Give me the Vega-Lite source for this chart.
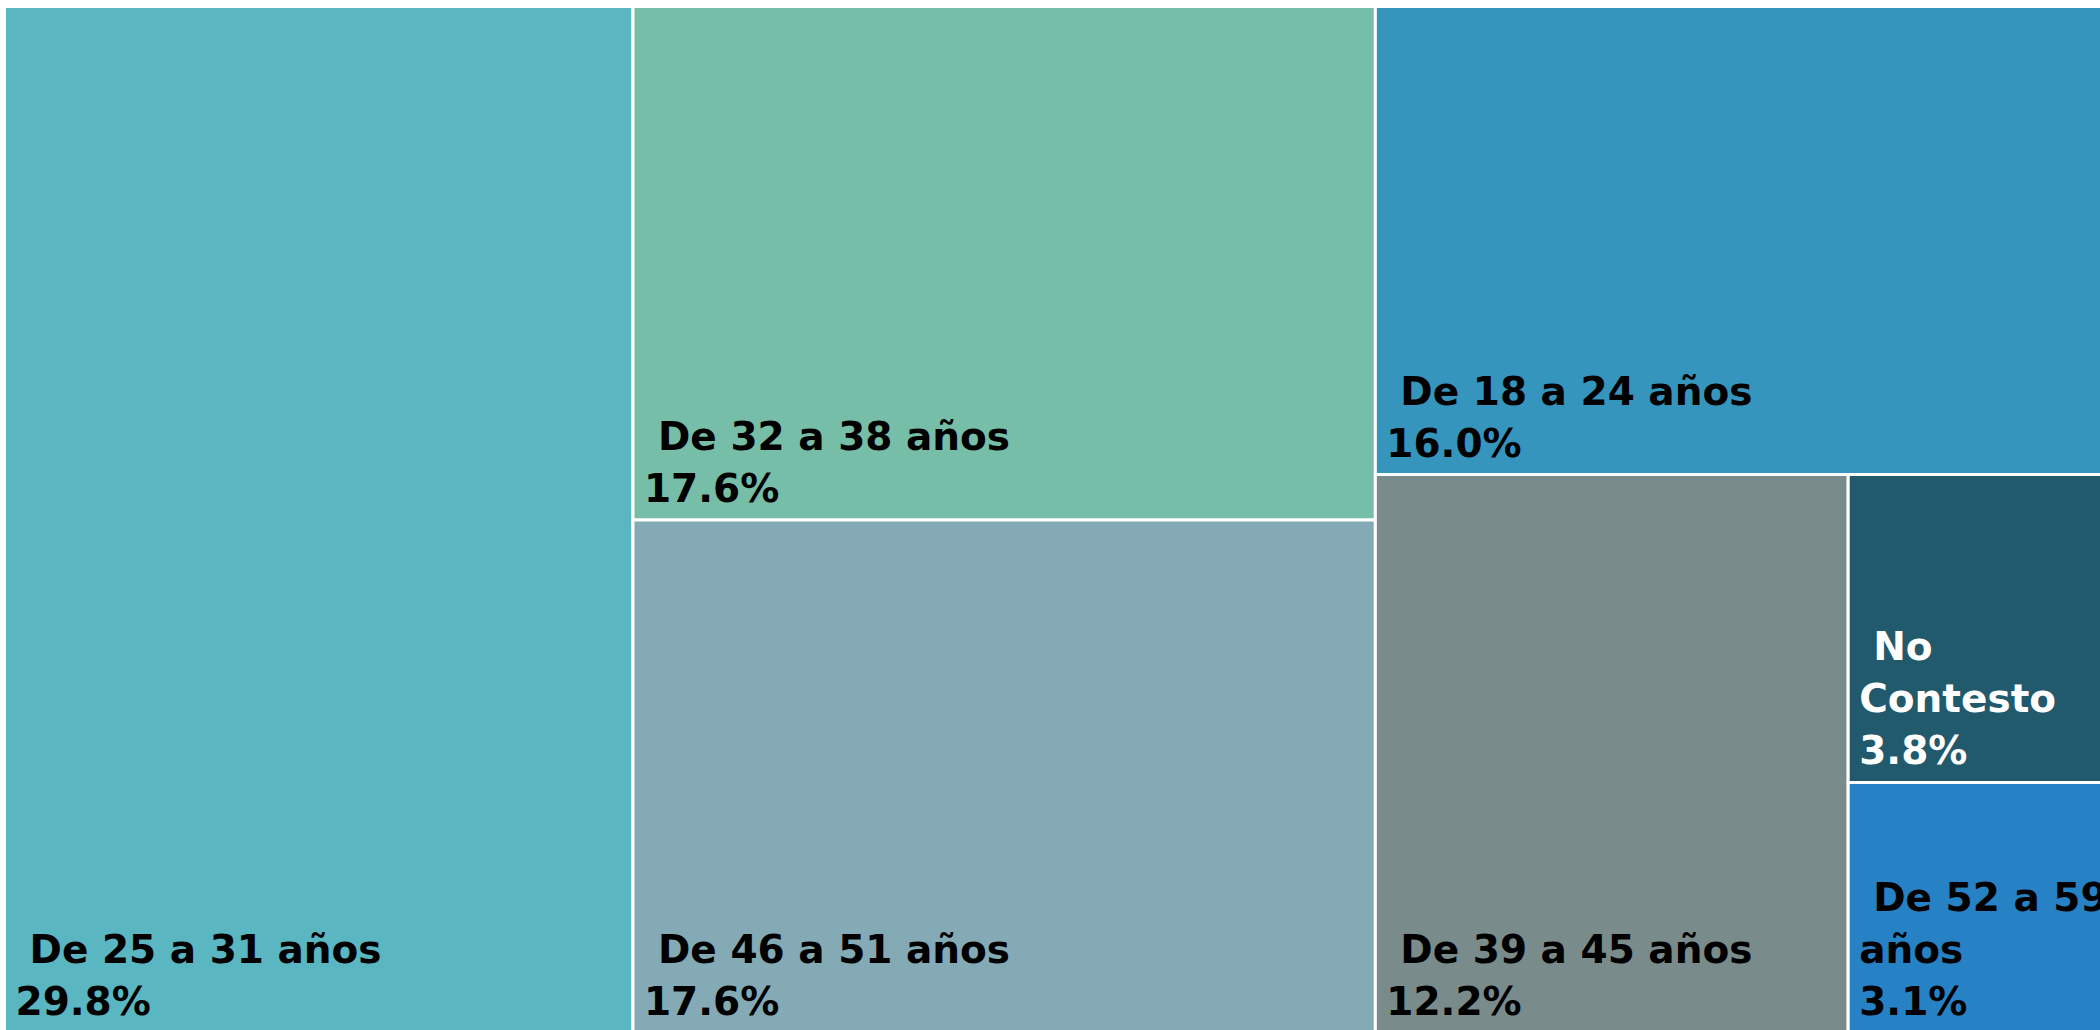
{
  "$schema": "https://vega.github.io/schema/vega-lite/v6.json",
  "width": 2094,
  "height": 1022,
  "autosize": {"type": "none"},
  "padding": {"left": 6, "top": 8, "right": 0, "bottom": 0},
  "background": "white",
  "config": {"view": {"stroke": null}},
  "data": {
    "values": [
      {"grupo": "De 25 a 31 años", "linea1": "De 25 a 31 años", "linea2": "", "pct": 29.8, "x0": 0, "x1": 29.8, "y0": 0, "y1": 100},
      {"grupo": "De 32 a 38 años", "linea1": "De 32 a 38 años", "linea2": "", "pct": 17.6, "x0": 29.8, "x1": 65.0, "y0": 0, "y1": 50},
      {"grupo": "De 46 a 51 años", "linea1": "De 46 a 51 años", "linea2": "", "pct": 17.6, "x0": 29.8, "x1": 65.0, "y0": 50, "y1": 100},
      {"grupo": "De 18 a 24 años", "linea1": "De 18 a 24 años", "linea2": "", "pct": 16.0, "x0": 65.0, "x1": 100.1, "y0": 0, "y1": 45.58},
      {"grupo": "De 39 a 45 años", "linea1": "De 39 a 45 años", "linea2": "", "pct": 12.2, "x0": 65.0, "x1": 87.42, "y0": 45.58, "y1": 100},
      {"grupo": "No Contesto", "linea1": "No", "linea2": "Contesto", "pct": 3.8, "x0": 87.42, "x1": 100.1, "y0": 45.58, "y1": 75.55},
      {"grupo": "De 52 a 59 años", "linea1": "De 52 a 59", "linea2": "años", "pct": 3.1, "x0": 87.42, "x1": 100.1, "y0": 75.55, "y1": 100}
    ]
  },
  "transform": [
    {"calculate": "format(datum.pct, '.1f') + '%'", "as": "pct_txt"}
  ],
  "encoding": {
    "x": {"field": "x0", "type": "quantitative", "axis": null, "scale": {"domain": [0.071, 99.36], "zero": false, "nice": false}},
    "y": {"field": "y0", "type": "quantitative", "axis": null, "scale": {"domain": [0.146, 99.66], "zero": false, "nice": false, "reverse": true}}
  },
  "layer": [
    {
      "mark": {"type": "rect", "stroke": "white", "strokeWidth": 3, "clip": true},
      "encoding": {
        "x2": {"field": "x1"},
        "y2": {"field": "y1"},
        "color": {
          "field": "grupo",
          "type": "nominal",
          "legend": null,
          "scale": {
            "domain": ["De 25 a 31 años", "De 32 a 38 años", "De 46 a 51 años", "De 18 a 24 años", "De 39 a 45 años", "No Contesto", "De 52 a 59 años"],
            "range": ["#5AB6C0", "#76BEA7", "#84ABB5", "#3595BC", "#7A8B8C", "#21596D", "#2781C5"]
          }
        }
      }
    },
    {
      "mark": {"type": "text", "align": "left", "baseline": "bottom", "dx": 11, "dy": -10, "font": "DejaVu Sans", "fontWeight": "bold", "fontSize": 39},
      "encoding": {
        "y": {"field": "y1", "type": "quantitative"},
        "text": {"field": "pct_txt", "type": "nominal"},
        "color": {"condition": {"test": "datum.grupo === 'No Contesto'", "value": "white"}, "value": "black"}
      }
    },
    {
      "transform": [{"filter": "datum.linea2 != ''"}],
      "mark": {"type": "text", "align": "left", "baseline": "bottom", "dx": 11, "dy": -62, "font": "DejaVu Sans", "fontWeight": "bold", "fontSize": 39},
      "encoding": {
        "y": {"field": "y1", "type": "quantitative"},
        "text": {"field": "linea2", "type": "nominal"},
        "color": {"condition": {"test": "datum.grupo === 'No Contesto'", "value": "white"}, "value": "black"}
      }
    },
    {
      "transform": [{"filter": "datum.linea2 == ''"}],
      "mark": {"type": "text", "align": "left", "baseline": "bottom", "dx": 25, "dy": -62, "font": "DejaVu Sans", "fontWeight": "bold", "fontSize": 39},
      "encoding": {
        "y": {"field": "y1", "type": "quantitative"},
        "text": {"field": "linea1", "type": "nominal"},
        "color": {"value": "black"}
      }
    },
    {
      "transform": [{"filter": "datum.linea2 != ''"}],
      "mark": {"type": "text", "align": "left", "baseline": "bottom", "dx": 25, "dy": -114, "font": "DejaVu Sans", "fontWeight": "bold", "fontSize": 39},
      "encoding": {
        "y": {"field": "y1", "type": "quantitative"},
        "text": {"field": "linea1", "type": "nominal"},
        "color": {"condition": {"test": "datum.grupo === 'No Contesto'", "value": "white"}, "value": "black"}
      }
    }
  ]
}
